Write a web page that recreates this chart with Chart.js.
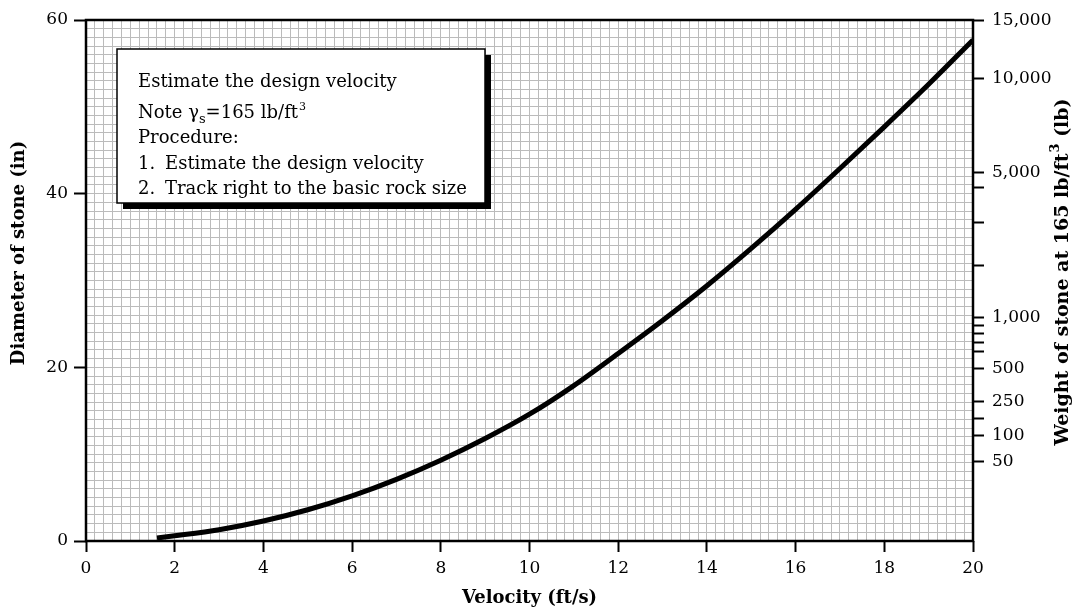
<!DOCTYPE html>
<html>
<head>
<meta charset="utf-8">
<script src="https://cdn.jsdelivr.net/npm/chart.js@4/dist/chart.umd.min.js"></script>
<style>
html,body{margin:0;padding:0;background:#fff;}
#wrap{position:relative;width:1082px;height:611px;}
</style>
</head>
<body>
<div id="wrap"><canvas id="c" width="1082" height="611"></canvas></div>
<script>
// Curve: velocity (ft/s) -> diameter of stone (in)
const velocity = [1.6, 2, 3, 4, 5, 6, 7, 8, 9, 10, 11, 12, 13, 14, 15, 16, 17, 18, 19, 20];
const diameter = [0.35, 0.6, 1.3, 2.3, 3.6, 5.2, 7.1, 9.3, 11.8, 14.6, 17.9, 21.6, 25.4, 29.4, 33.7, 38.2, 42.9, 47.7, 52.6, 57.7];

// Axis ticks
const xTickLabels = [0, 2, 4, 6, 8, 10, 12, 14, 16, 18, 20];
const yTickLabels = [0, 20, 40, 60];
// Right axis: weight ticks placed at the stone diameter they correspond to
const weightTickDiameters = [9.1, 12.1, 14.1, 16.1, 19.9, 21.8, 22.9, 23.9, 24.8, 25.7, 31.7, 36.7, 40.7, 42.4, 53.3, 59.9];
const weightTickLabels = ['50', '100', '', '250', '500', '', '', '', '', '1,000', '', '', '', '5,000', '10,000', '15,000'];

// Note box text
const noteTitle = 'Estimate the design velocity';
const noteProcedure = 'Procedure:';
const noteSteps = ['Estimate the design velocity', 'Track right to the basic rock size'];

const SERIF = '"DejaVu Serif", "Liberation Serif", serif';
const near = (a, b) => Math.abs(a - b) < 1e-6;

function gridTicks(min, max, step) {
  const t = [];
  const n = Math.round((max - min) / step);
  for (let i = 0; i <= n; i++) t.push({ value: +(min + i * step).toFixed(6) });
  return t;
}

const frameAndNotes = {
  id: 'frameAndNotes',
  afterDatasetsDraw(chart) {
    const { ctx, chartArea: a } = chart;
    ctx.save();
    // plot frame
    ctx.strokeStyle = '#000';
    ctx.lineWidth = 2.5;
    ctx.strokeRect(a.left, a.top, a.right - a.left, a.bottom - a.top);

    // note box with shadow
    const bx = a.left + 31, by = a.top + 29, bw = 368, bh = 154;
    ctx.fillStyle = '#000';
    ctx.fillRect(bx + 6, by + 6, bw, bh);
    ctx.fillStyle = '#fff';
    ctx.fillRect(bx, by, bw, bh);
    ctx.lineWidth = 1.5;
    ctx.strokeRect(bx, by, bw, bh);

    ctx.fillStyle = '#000';
    ctx.textBaseline = 'alphabetic';
    ctx.textAlign = 'left';
    const tx = bx + 21;
    const F = '18px ' + SERIF;
    ctx.font = F;
    ctx.fillText(noteTitle, tx, by + 38);
    // Note γs=165 lb/ft3
    let x = tx, y = by + 69;
    ctx.fillText('Note γ', x, y); x += ctx.measureText('Note γ').width;
    ctx.font = '13px ' + SERIF;
    ctx.fillText('s', x, y + 5); x += ctx.measureText('s').width;
    ctx.font = F;
    ctx.fillText('=165 lb/ft', x, y); x += ctx.measureText('=165 lb/ft').width;
    ctx.font = '11px ' + SERIF;
    ctx.fillText('3', x + 1, y - 8);
    ctx.font = F;
    ctx.fillText(noteProcedure, tx, by + 94);
    noteSteps.forEach((s, i) => {
      const yy = by + 120 + i * 25;
      ctx.fillText((i + 1) + '.', tx, yy);
      ctx.fillText(s, tx + 27, yy);
    });
    ctx.restore();
  },
  afterDraw(chart) {
    const { ctx, chartArea: a } = chart;
    ctx.save();
    ctx.fillStyle = '#000';
    const B = 'bold 18px ' + SERIF;
    ctx.font = B;
    ctx.textAlign = 'center';
    ctx.textBaseline = 'middle';
    // x title
    ctx.fillText('Velocity (ft/s)', (a.left + a.right) / 2, 598);
    // left title
    ctx.save();
    ctx.translate(19, 253);
    ctx.rotate(-Math.PI / 2);
    ctx.fillText('Diameter of stone (in)', 0, 0);
    ctx.restore();
    // right title with superscript
    ctx.save();
    ctx.translate(1063, 272);
    ctx.rotate(-Math.PI / 2);
    const R = 'bold 19px ' + SERIF;
    const p1 = 'Weight of stone at 165 lb/ft', p2 = '3', p3 = ' (lb)';
    ctx.font = R;
    const w1 = ctx.measureText(p1).width, w3 = ctx.measureText(p3).width;
    ctx.font = 'bold 13px ' + SERIF;
    const w2 = ctx.measureText(p2).width + 1;
    let sx = -(w1 + w2 + w3) / 2;
    ctx.textAlign = 'left';
    ctx.font = R;
    ctx.fillText(p1, sx, 0); sx += w1;
    ctx.font = 'bold 13px ' + SERIF;
    ctx.fillText(p2, sx + 1, -7); sx += w2;
    ctx.font = R;
    ctx.fillText(p3, sx, 0);
    ctx.restore();
    ctx.restore();
  }
};

const tickFont = { family: SERIF, size: 17 };

new Chart(document.getElementById('c'), {
  type: 'line',
  data: {
    datasets: [{
      data: velocity.map((v, i) => ({ x: v, y: diameter[i] })),
      borderColor: '#000',
      borderWidth: 5,
      borderCapStyle: 'butt',
      pointRadius: 0,
      fill: false,
      cubicInterpolationMode: 'monotone'
    }]
  },
  options: {
    responsive: false,
    animation: false,
    layout: { padding: { top: 20, left: 0, right: 0, bottom: 0 } },
    plugins: { legend: { display: false }, tooltip: { enabled: false } },
    scales: {
      x: {
        type: 'linear', min: 0, max: 20,
        afterBuildTicks: s => { s.ticks = gridTicks(0, 20, 0.2); },
        afterFit: s => { s.height = 70; },
        ticks: {
          autoSkip: false, maxRotation: 0, color: '#000', font: tickFont, padding: 6,
          callback: v => xTickLabels.some(t => near(t, v)) ? String(Math.round(v)) : ''
        },
        grid: {
          color: '#bbbbbb', lineWidth: 1, tickLength: 11, tickWidth: 2,
          tickColor: c => (c.tick && xTickLabels.some(t => near(t, c.tick.value))) ? '#000' : 'rgba(0,0,0,0)'
        },
        border: { display: false }
      },
      y: {
        type: 'linear', position: 'left', min: 0, max: 60,
        afterBuildTicks: s => { s.ticks = gridTicks(0, 60, 1); },
        afterFit: s => { s.width = 86; },
        ticks: {
          autoSkip: false, color: '#000', font: tickFont, padding: 6,
          callback: v => yTickLabels.some(t => near(t, v)) ? String(Math.round(v)) : ''
        },
        grid: {
          color: '#bbbbbb', lineWidth: 1, tickLength: 12, tickWidth: 2,
          tickColor: c => (c.tick && yTickLabels.some(t => near(t, c.tick.value))) ? '#000' : 'rgba(0,0,0,0)'
        },
        border: { display: false }
      },
      y2: {
        type: 'linear', position: 'right', min: 0, max: 60,
        afterBuildTicks: s => { s.ticks = weightTickDiameters.map(v => ({ value: v })); },
        afterFit: s => { s.width = 109; },
        ticks: {
          autoSkip: false, color: '#000', font: tickFont, padding: 8,
          callback: (v, i) => weightTickLabels[i]
        },
        grid: { drawOnChartArea: false, tickLength: 11, tickWidth: 2, tickColor: '#000' },
        border: { display: false }
      }
    }
  },
  plugins: [frameAndNotes]
});
</script>
</body>
</html>
